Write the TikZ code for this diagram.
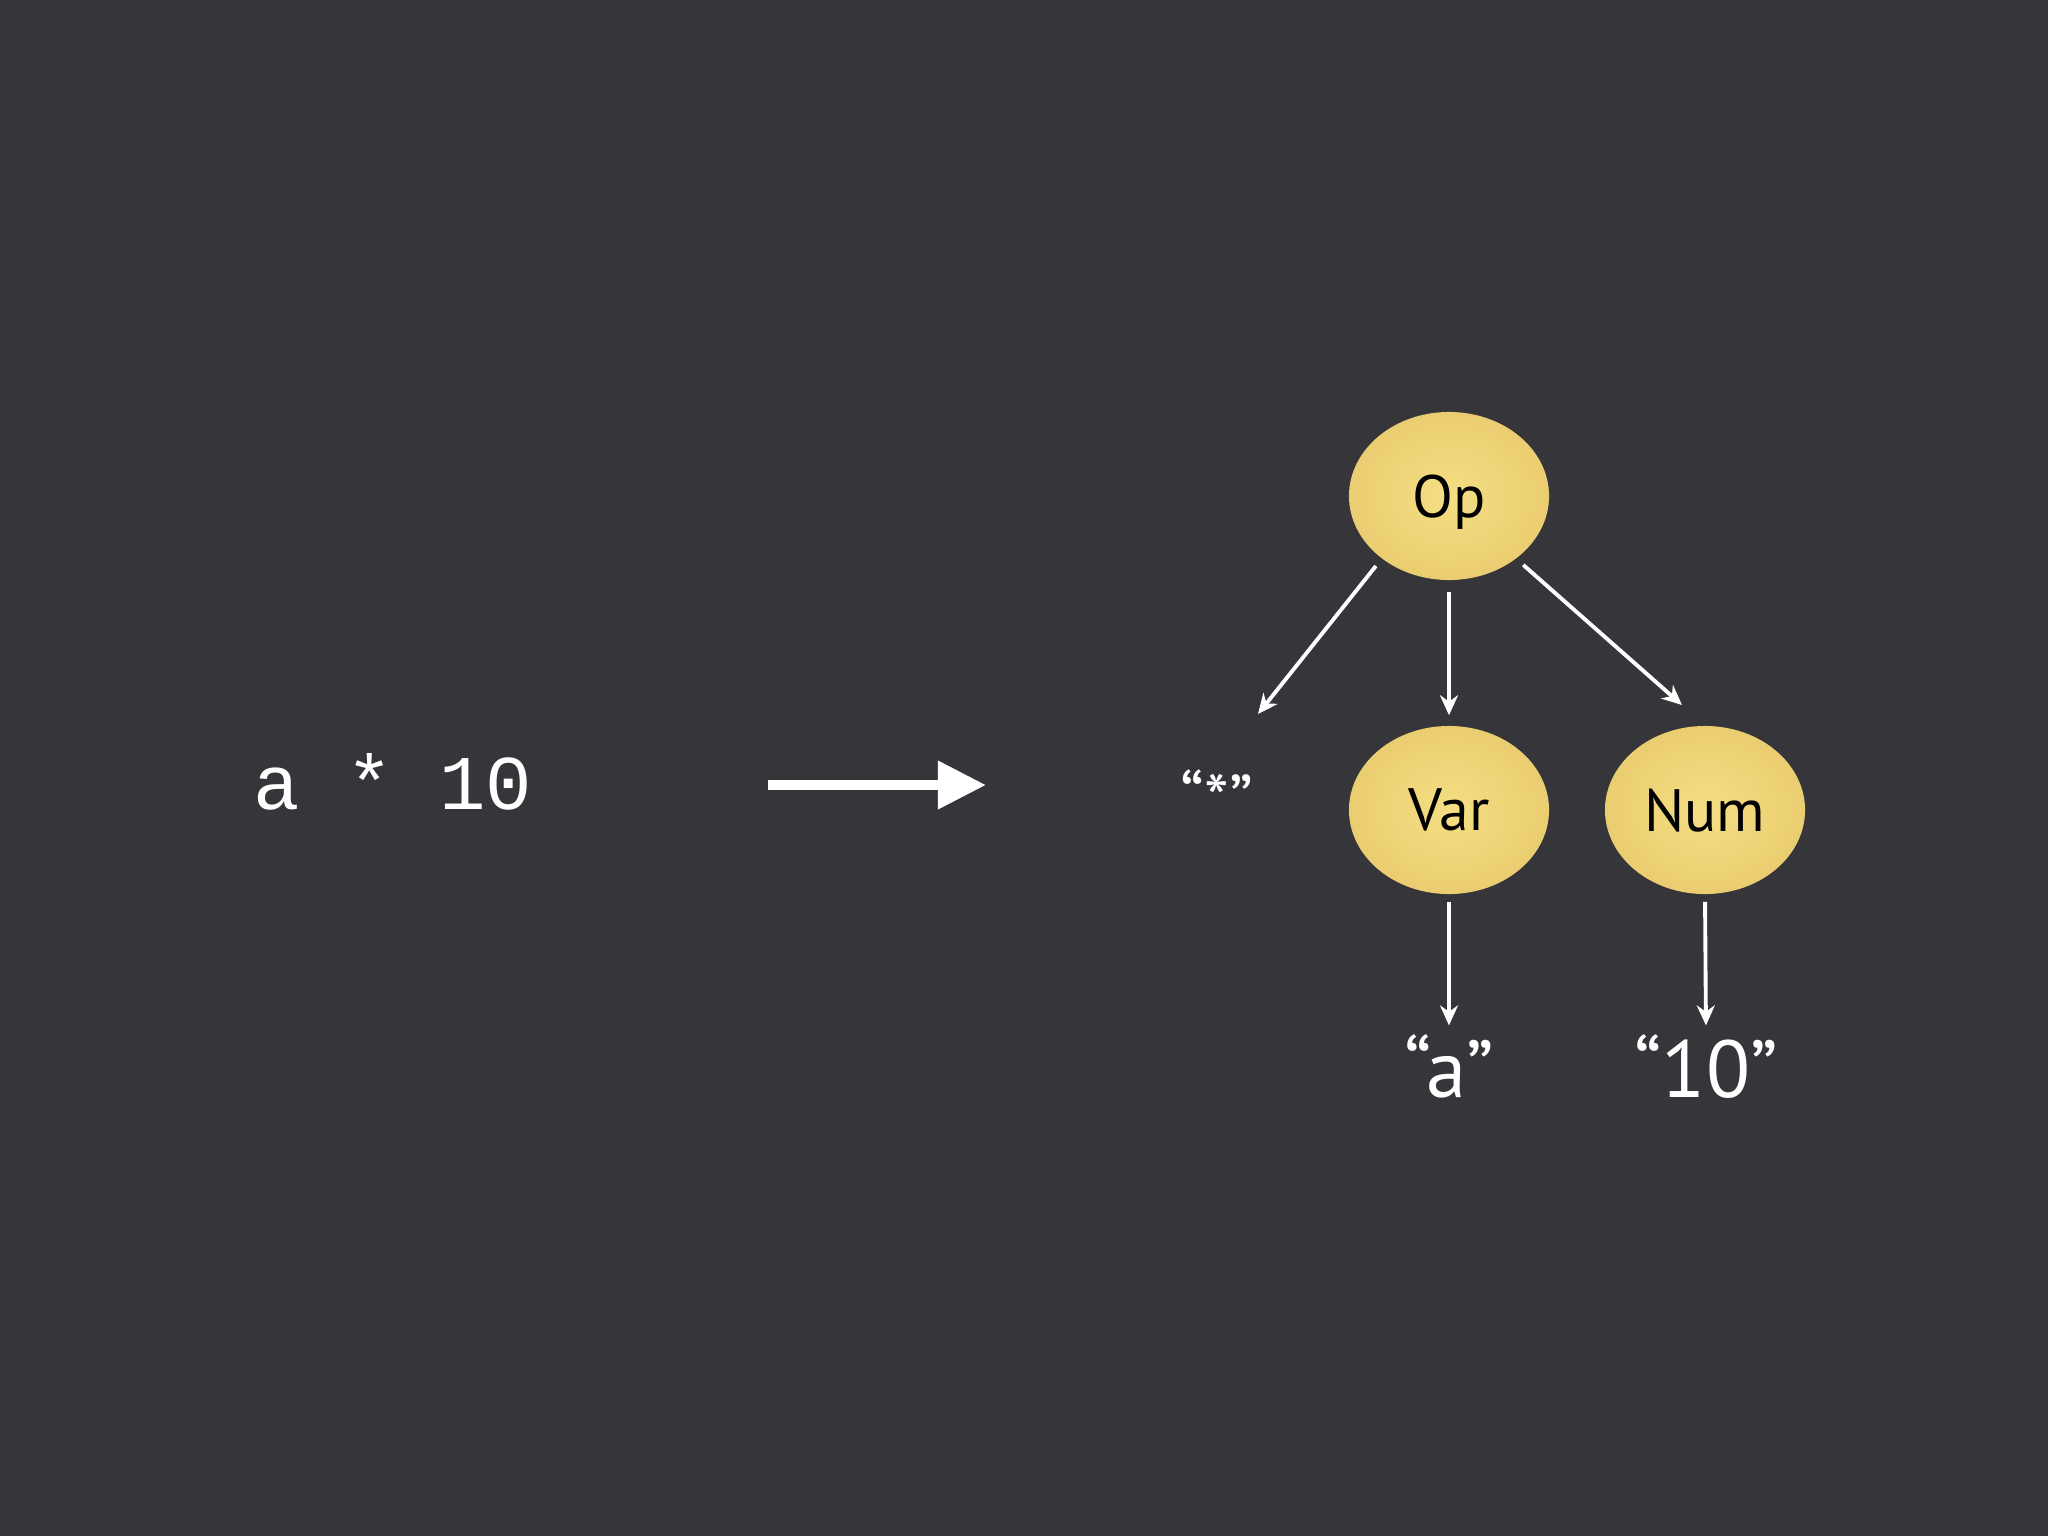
\documentclass[tikz,border=0pt]{standalone}
\usepackage{fontspec}
\setmainfont{PT Sans}
\newfontfamily\codefont{Liberation Mono}
\usetikzlibrary{arrows.meta,shapes.geometric}
\definecolor{bgcol}{RGB}{54,53,58}
\definecolor{eggin}{RGB}{245,222,132}
\definecolor{eggout}{RGB}{234,205,112}
\tikzset{
  px/.style={x=0.01cm,y=-0.01cm},
  egg/.style={ellipse,minimum width=2cm,minimum height=1.68cm,inner sep=0pt,text depth=0pt,
    inner color=eggin,outer color=eggout,text=black,font=\fontsize{17}{19}\selectfont},
  lab/.style={text=white,inner sep=0pt,font=\fontsize{23}{25}\selectfont},
  arr/.style={draw=white,line width=1.1pt,-{Stealth[length=0.2cm,width=0.18cm]}},
  bigarr/.style={draw=white,line width=0.1cm,-{Triangle[length=0.48cm,width=0.46cm]}}
}
\begin{document}
\begin{tikzpicture}[px]
\fill[bgcol] (0,0) rectangle (2048,1536);
\useasboundingbox (0,0) rectangle (2048,1536);
\node[text=white,inner sep=0pt,font=\codefont\fontsize{22}{24}\selectfont] (src) at (393,782) {a * 10};
\coordinate (bigstart) at (768,785);
\coordinate (bigend) at (986,785);
\draw[bigarr] (bigstart) -- (bigend);
\node[egg] (Op) at (1449,496) {Op};
\node[egg] (Var) at (1449,810) {Var};
\node[egg] (Num) at (1705,810) {Num};
\node[lab,font=\fontsize{20}{22}\selectfont] (star) at (1217,797) {“*”};
\node[lab,anchor=base] (a) at (1449,1097) {“a”};
\node[lab,anchor=base] (ten) at (1706,1097) {“10”};
\coordinate (startip) at (1258,714);
\coordinate (numtip) at (1682,705);
\draw[arr,shorten <=0.09cm] (Op.223) -- (startip);
\draw[arr,shorten <=0.11cm,shorten >=0.1cm] (Op.south) -- (Var.north);
\draw[arr,shorten <=0.09cm] (Op.317) -- (numtip);
\draw[arr,shorten <=0.07cm,shorten >=0.08cm] (Var.south) -- (a.north);
\draw[arr,shorten <=0.07cm,shorten >=0.08cm] (Num.south) -- (ten.north);
\end{tikzpicture}
\end{document}
